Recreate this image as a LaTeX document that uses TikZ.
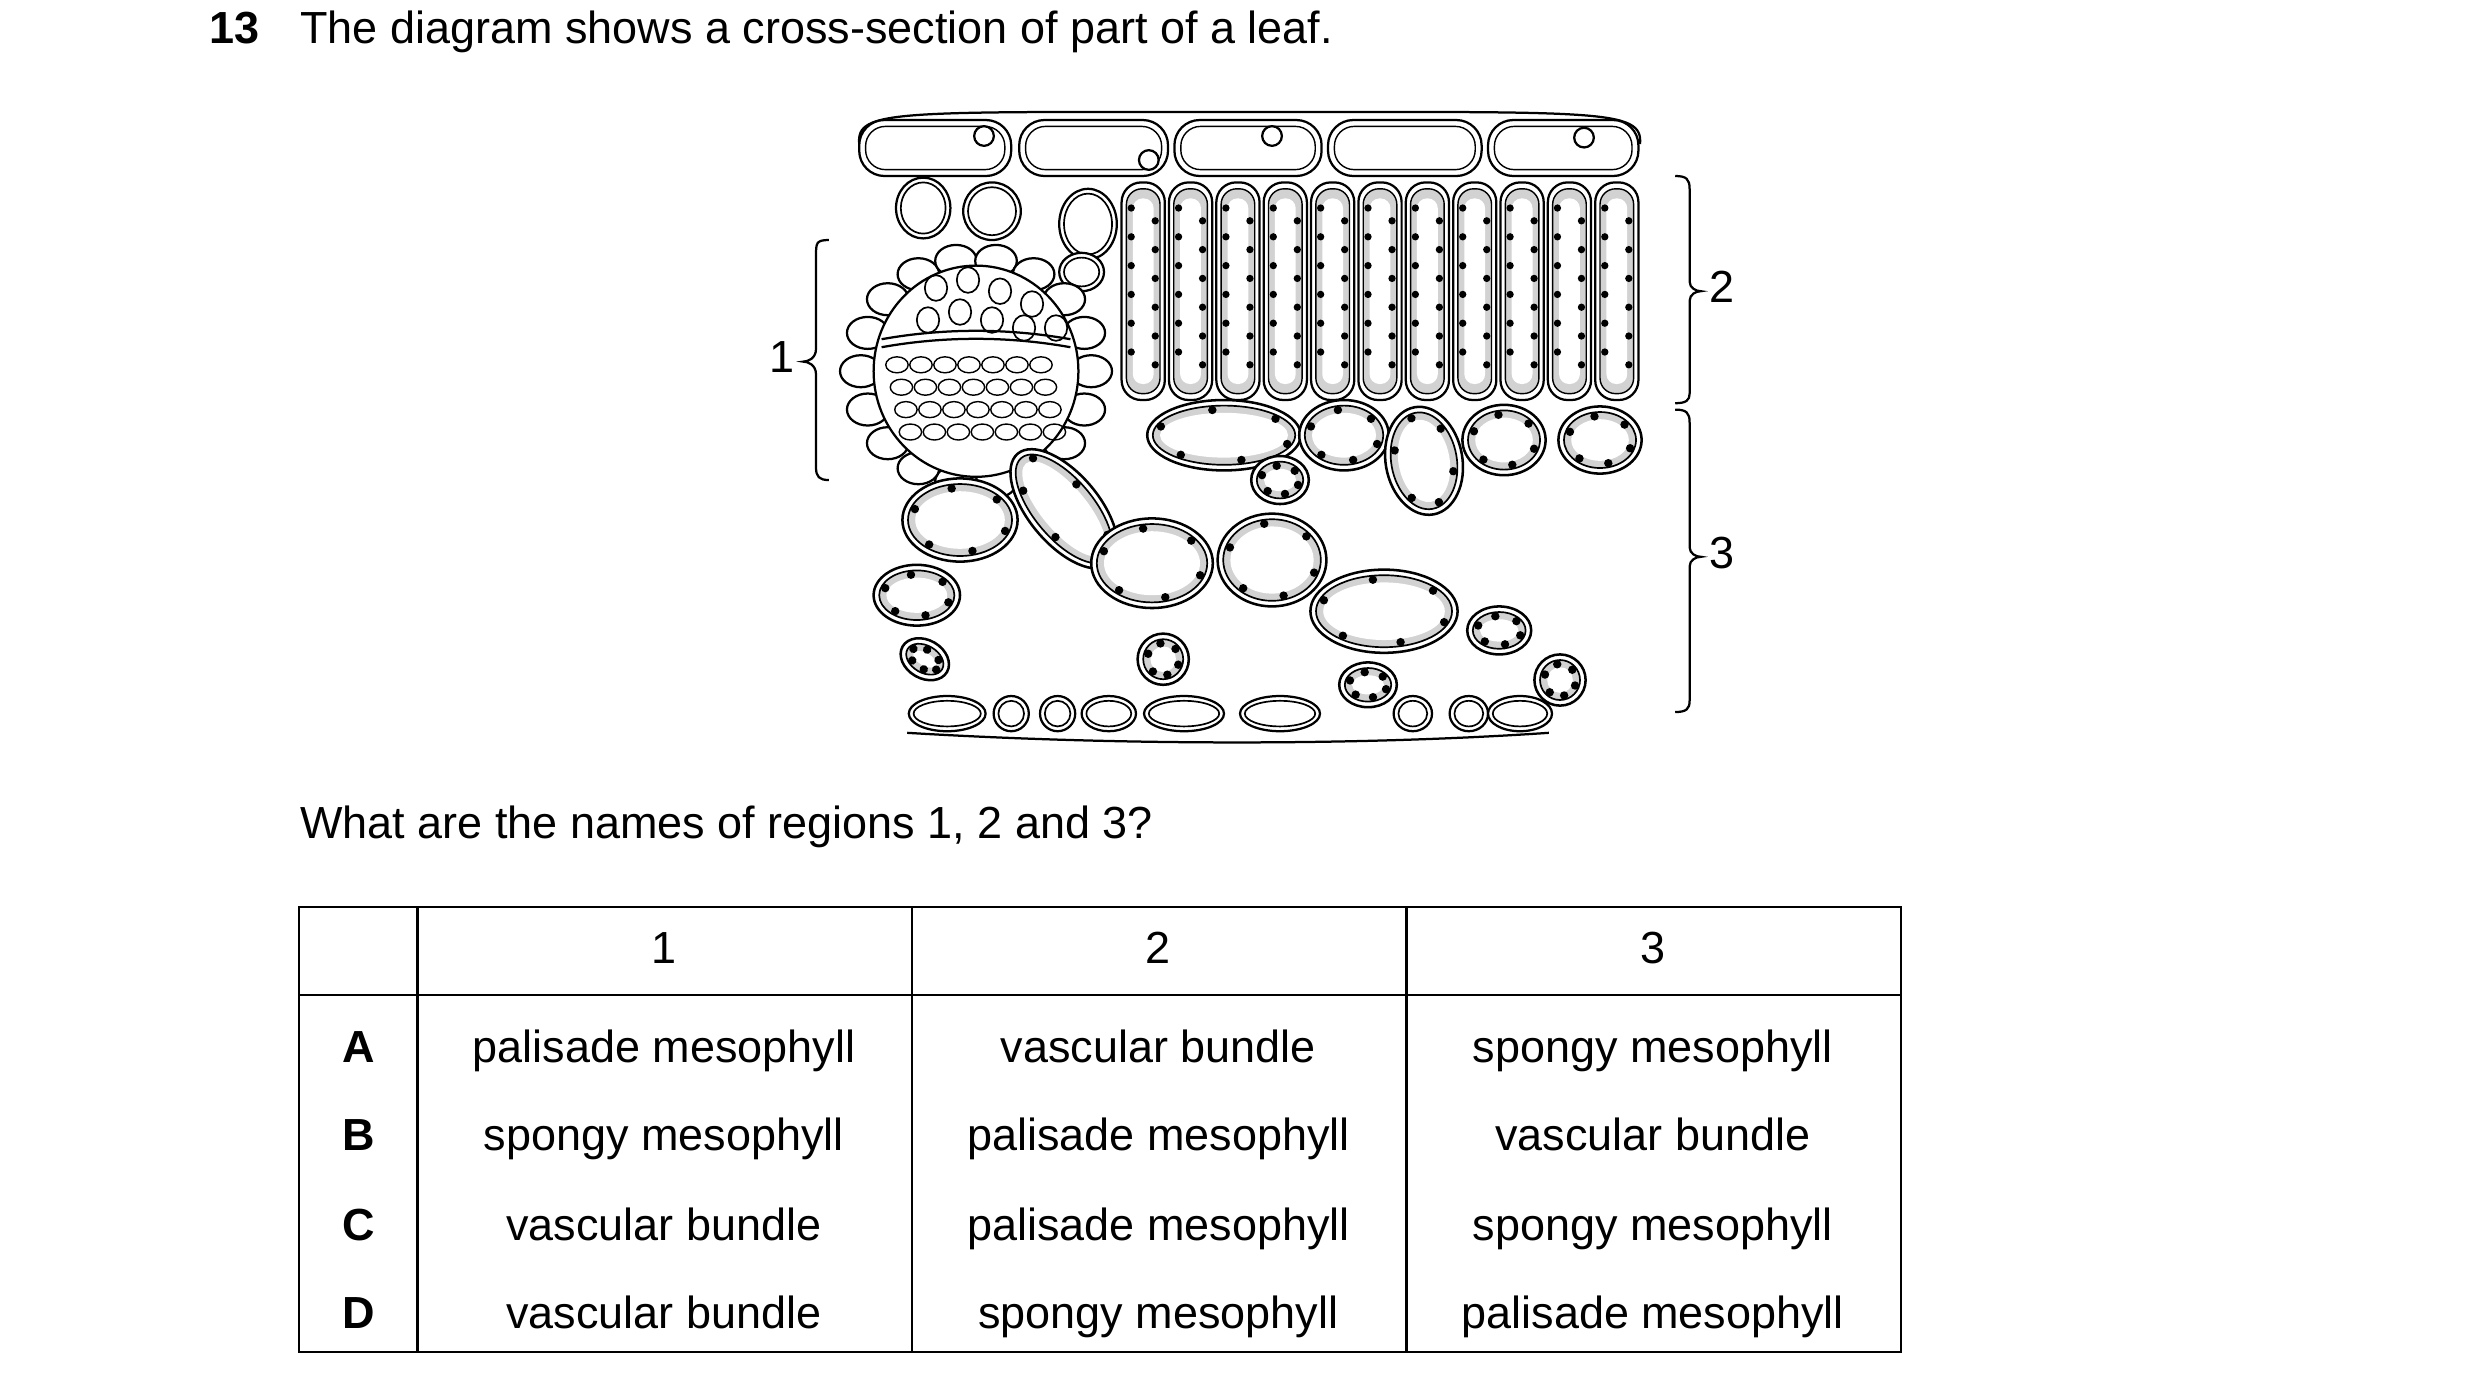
\documentclass[tikz,border=0pt]{standalone}
\usepackage{fontspec}
\setmainfont{Liberation Sans}
\begin{document}
\newcommand\spc[5]{%
\begin{scope}[shift={(#1,#2)},rotate=#5]
\draw[line width=0.9pt,fill=white] (0,0) ellipse ({#3} and {#4});
\draw[line width=0.6pt,fill=gray!35] (0,0) ellipse ({#3-3.5} and {#4-3.5});
\fill[white] (0,0) ellipse ({#3-8} and {#4-8});
\foreach \a in {20,75,130,200,260,320}{\fill ({(#3-6)*cos(\a)},{(#4-6)*sin(\a)}) circle (1.5pt);}
\end{scope}}
\newcommand\smc[4]{\draw[line width=0.8pt,fill=white] (#1,#2) ellipse ({#3} and {#4});
\draw[line width=0.6pt] (#1,#2) ellipse ({#3-3} and {#4-3});}
\begin{tikzpicture}[x=0.02cm,y=-0.02cm,line width=0.8pt,
  txt/.style={font=\fontsize{16}{19}\selectfont,inner sep=0pt,text height=11.5pt,text depth=3.5pt}]
\useasboundingbox (0,0) rectangle (1550,860);
\node[txt,anchor=west,font=\fontsize{16}{19}\selectfont\bfseries] (q) at (130,20) {13};
\node[txt,anchor=west] (t) at (187,20) {The diagram shows a cross-section of part of a leaf.};
% upper epidermis
\draw (537,90) .. controls (535,68) and (560,70) .. (780,70) .. controls (1000,70) and (1027,68) .. (1025,90);
\foreach \a/\b in {537/632,637/730,734/826,830/926,930/1024}{
 \draw[rounded corners=9pt,fill=white] (\a,75) rectangle (\b,110);
 \draw[rounded corners=7pt,line width=0.5pt] (\a+4,79) rectangle (\b-4,106);}
\draw[fill=white] (615,85) circle (3.5pt); \draw[fill=white] (718,100) circle (3.5pt); \draw[fill=white] (795,85) circle (3.5pt); \draw[fill=white] (990,86) circle (3.5pt);
% palisade
\foreach \i in {0,...,10}{
 \pgfmathsetmacro\xa{700+\i*29.6}
 \draw[rounded corners=7pt,fill=white] (\xa+1,114) rectangle (\xa+28,250);
 \draw[rounded corners=5.5pt,fill=gray!35,line width=0.5pt] (\xa+4,118) rectangle (\xa+25,246);
 \fill[white,rounded corners=3.5pt] (\xa+8,124) rectangle (\xa+21,240);
 \foreach \yy in {130,148,...,236}{\fill (\xa+7,\yy) circle (1.3pt); \fill (\xa+22,\yy+8) circle (1.3pt);}
}
% small cells top-left
\smc{577}{130}{17}{19}\smc{620}{132}{18}{18}\smc{680}{140}{18}{22}\smc{676}{170}{14}{12}
% vascular bundle
\foreach \a in {0,20,...,340}{\draw[fill=white] ({610+72*cos(\a)},{232+70*sin(\a)}) ellipse (13 and 10);}
\draw[fill=white] (610,232) ellipse (64 and 66);
\draw (551,212) .. controls (590,205) and (630,205) .. (669,212);
\draw (551,217) .. controls (590,210) and (630,210) .. (669,217);
\foreach \x/\y in {585/180,605/175,625/182,645/190,580/200,600/195,620/200,640/205,660/205}{\draw[line width=0.6pt] (\x,\y) ellipse (7 and 8);}
\foreach \x in {565,580,...,655}{\foreach \y in {228,242,256,270}{\draw[line width=0.5pt] (\x+\y/5-50,\y) ellipse (7 and 5);}}
% spongy
\spc{765}{272}{48}{22}{0}\spc{840}{272}{28}{22}{0}\spc{890}{288}{24}{34}{10}
\spc{940}{275}{26}{22}{0}\spc{1000}{275}{26}{21}{0}\spc{800}{300}{18}{15}{0}
\spc{600}{325}{36}{26}{0}\spc{665}{318}{45}{22}{-50}\spc{720}{352}{38}{28}{0}
\spc{795}{350}{34}{29}{0}\spc{573}{372}{27}{19}{0}\spc{865}{382}{46}{26}{0}
\spc{937}{394}{20}{15}{0}\spc{578}{412}{16}{12}{-30}\spc{727}{412}{16}{16}{0}
\spc{975}{425}{16}{16}{0}\spc{855}{428}{18}{14}{0}
% lower epidermis
\draw (567,458) .. controls (700,466) and (850,466) .. (968,458);
\foreach \x/\w in {592/24,632/11,661/11,693/17,740/25,800/25,883/12,918/12,950/20}{\smc{\x}{446}{\w}{11}}
% brackets
\draw (518,150) .. controls (510,150) and (510,152) .. (510,160) -- (510,218) .. controls (510,224) and (505,226) .. (502,226)
 .. controls (505,226) and (510,228) .. (510,234) -- (510,292) .. controls (510,298) and (512,300) .. (518,300);
\draw (1047,110) .. controls (1054,110) and (1056,112) .. (1056,118) -- (1056,176) .. controls (1056,180) and (1060,182) .. (1063,182)
 .. controls (1060,182) and (1056,184) .. (1056,188) -- (1056,246) .. controls (1056,250) and (1054,252) .. (1047,252);
\draw (1047,256) .. controls (1054,256) and (1056,258) .. (1056,264) -- (1056,342) .. controls (1056,346) and (1060,348) .. (1063,348)
 .. controls (1060,348) and (1056,350) .. (1056,354) -- (1056,438) .. controls (1056,443) and (1054,445) .. (1047,445);
\node[txt] (l1) at (489,226) {1};
\node[txt] (l2) at (1076,182) {2};
\node[txt] (l3) at (1076,348) {3};
\node[txt,anchor=west] (w) at (187,517) {What are the names of regions 1, 2 and 3?};
% table
\draw (187,567) rectangle (1188,845);
\draw (187,622) -- (1188,622);
\foreach \x in {261,570,879}{\draw (\x,567) -- (\x,845);}
\node[txt] at (415,595) {1};\node[txt] at (724,595) {2};\node[txt] at (1033,595) {3};
\foreach \L/\a/\b/\c/\y in {A/palisade mesophyll/vascular bundle/spongy mesophyll/657,
 B/spongy mesophyll/palisade mesophyll/vascular bundle/712,
 C/vascular bundle/palisade mesophyll/spongy mesophyll/768,
 D/vascular bundle/spongy mesophyll/palisade mesophyll/823}{
 \node[txt,font=\fontsize{16}{19}\selectfont\bfseries] at (224,\y) {\L};
 \node[txt] at (415,\y) {\a};\node[txt] at (724,\y) {\b};\node[txt] at (1033,\y) {\c};}
\end{tikzpicture}
\end{document}
